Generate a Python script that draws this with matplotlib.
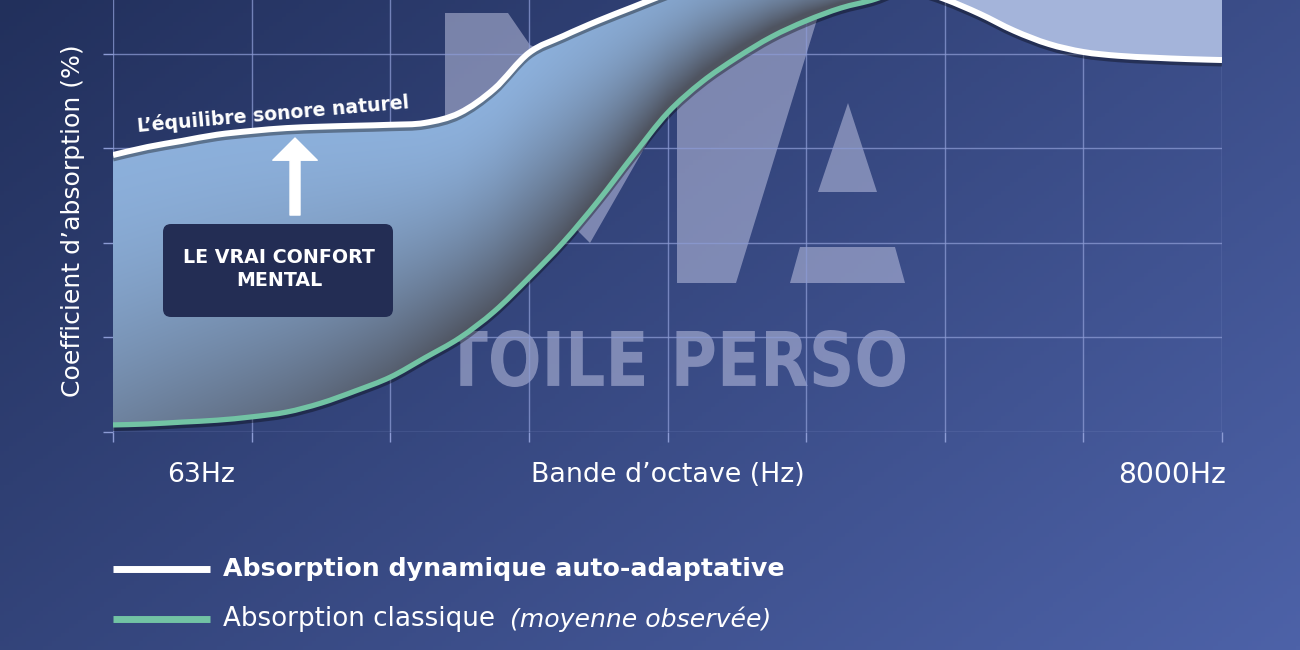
import numpy as np
import matplotlib
matplotlib.use('Agg')
import matplotlib.pyplot as plt
import matplotlib.patheffects as pe
from matplotlib.patches import Polygon, PathPatch, FancyBboxPatch
from matplotlib.lines import Line2D
from matplotlib.path import Path
from matplotlib.textpath import TextPath
from matplotlib.font_manager import FontProperties
from matplotlib.transforms import Affine2D, IdentityTransform

plt.rcParams['font.family'] = ['DejaVu Sans']

# octave bands: 0 = 63Hz ... 8 = last grid line, read every quarter of a band
band_pos = np.arange(33) * 0.25
# absorption coefficient (%)
dynamique = [58.6, 60.3, 61.6, 62.9, 63.7, 64.3, 64.6, 64.8, 65.0, 65.4, 67.5,
             72.6, 80.2, 83.8, 87.0, 89.9, 92.8, 95.5, 97.0, 98.0, 98.0, 97.0,
             95.5, 94.0, 91.6, 88.5, 84.9, 82.1, 80.4, 79.6, 79.2, 78.9, 78.7]
classique = [1.5, 1.7, 2.1, 2.5, 3.2, 4.2, 6.1, 8.7, 11.6, 15.7, 19.9,
             25.5, 32.6, 40.2, 48.9, 58.4, 67.5, 74.1, 79.2, 83.6, 87.0, 89.7,
             91.6, 94.5, 96.0, 98.0, 99.0, 100, 100, 100, 100, 100, 100]
x_labels = ['63Hz', 'Bande d’octave (Hz)', '8000Hz']
legend_labels = ['Absorption dynamique auto-adaptative', 'Absorption classique']

W, H = 1300, 650
ymax = 91.4
grid_col = '#8c9bd4'
green = '#72c3a4'
wm_col = (0.85, 0.86, 0.96)


def fpx(x, y):
    # pixel position -> figure fraction
    return x / W, 1 - y / H


def smooth(xs, ys):
    # bezier chain through the read points (catmull-rom tangents)
    p = np.column_stack([xs, ys])
    n = len(p)
    verts = [p[0]]
    for i in range(n - 1):
        p0, p1, p2, p3 = p[max(i - 1, 0)], p[i], p[i + 1], p[min(i + 2, n - 1)]
        verts += [p1 + (p2 - p0) / 6, p2 - (p3 - p1) / 6, p2]
    return np.array(verts), [Path.MOVETO] + [Path.CURVE4] * (3 * (n - 1))


fig = plt.figure(figsize=(13, 6.5), dpi=100)
renderer = fig.canvas.get_renderer()


def fit(t, px, use_height=False):
    bb = t.get_window_extent(renderer)
    t.set_fontsize(t.get_fontsize() * px / (bb.height if use_height else bb.width))
    return t


# background gradient
bg = fig.add_axes([0, 0, 1, 1], zorder=-1)
u, v = np.meshgrid(np.linspace(0, 1, 300), np.linspace(0, 1, 150))
k = (0.6 * u + 0.4 * v)[..., None]
c0 = np.array([34, 48, 92]) / 255
c1 = np.array([77, 98, 168]) / 255
bg.imshow(c0 + (c1 - c0) * k, aspect='auto', extent=[0, 1, 0, 1], origin='upper')
bg.axis('off')

ax = fig.add_axes([113 / W, 1 - 432 / H, (1222 - 113) / W, 432 / H])
ax.set_facecolor('none')
ax.set_xlim(0, 8)
ax.set_ylim(0, ymax)
for s in ax.spines.values():
    s.set_visible(False)
ax.set_xticks(range(9))
ax.set_yticks([0, 20, 40, 60, 80])
ax.tick_params(length=7, width=1, color=grid_col, labelbottom=False, labelleft=False)
ax.set_axisbelow(False)
ax.grid(color=grid_col, lw=1, alpha=0.75)

# watermark (logo + name), under the grid and the curves
shapes = [
    [(445, 13), (508, 13), (530, 45), (669, 105), (590, 243), (540, 193), (445, 193)],
    [(677, 13), (819, 13), (736, 283), (677, 283)],
    [(848, 103), (818, 192), (877, 192)],
    [(800, 247), (895, 247), (905, 283), (790, 283)],
]
for sh in shapes:
    ax.add_patch(Polygon([fpx(*p) for p in sh], closed=True, transform=fig.transFigure,
                         facecolor=wm_col, alpha=0.45, edgecolor='none', zorder=1, clip_on=False))
tp = TextPath((0, 0), 'TOILE PERSO', size=1, prop=FontProperties(family='DejaVu Sans', weight='bold'))
ext = tp.get_extents()
sx = (905 - 445) / W / ext.width
sy = (387 - 330) / H / ext.height
x0, y0 = fpx(445, 387)
tr = Affine2D().translate(-ext.x0, -ext.y0).scale(sx, sy).translate(x0, y0) + fig.transFigure
ax.add_patch(PathPatch(tp, transform=tr, facecolor=wm_col, alpha=0.45, edgecolor='none',
                       zorder=1, clip_on=False))

dyn = np.array(dynamique)
cls = np.array(classique)
dyn_v, dyn_c = smooth(band_pos, dyn)
cls_v, cls_c = smooth(band_pos, cls)

# shaded band between the two curves (until they cross above the top)
gx = np.linspace(0, 8, 900)
gy = np.linspace(0, ymax, 500)
X, Y = np.meshgrid(gx, gy)
top = np.interp(gx, band_pos, dyn)
bot = np.interp(gx, band_pos, cls)
t = np.clip((Y - bot) / np.maximum(top - bot, 1e-6), 0, 1)
sh_x = 0.5 + 0.5 * np.clip(X / 2.5, 0, 1)
wdark = np.clip((1 - t) ** 1.6 * sh_x + 0.35 * np.clip((X - 3) / 3, 0, 1), 0, 1)[..., None]
light = np.array([0.55, 0.69, 0.86])
dark = np.array([0.31, 0.33, 0.38])
im = ax.imshow(light * (1 - wdark) + dark * wdark, extent=[0, 8, 0, ymax], origin='lower',
               aspect='auto', zorder=3, interpolation='bilinear')
n_in = 3 * 23 + 1
tv, bv = dyn_v[:n_in], cls_v[:n_in][::-1]
band_path = Path(np.vstack([tv, bv, tv[:1]]),
                 [Path.MOVETO] + [Path.CURVE4] * (n_in - 1) + [Path.LINETO]
                 + [Path.CURVE4] * (n_in - 1) + [Path.CLOSEPOLY])
im.set_clip_path(band_path, ax.transData)

# light area above the white curve where the classic curve passes over it
wv = dyn_v[3 * 22:]
light_path = Path(np.vstack([wv, [[8, ymax + 10], [5.5, ymax + 10], wv[0]]]),
                  [Path.MOVETO] + [Path.CURVE4] * (len(wv) - 1)
                  + [Path.LINETO, Path.LINETO, Path.CLOSEPOLY])
ax.add_patch(PathPatch(light_path, facecolor='#a4b4da', edgecolor='none', zorder=3))

shadow = [pe.SimpleLineShadow(offset=(0, -2.5), shadow_color='black', alpha=0.35), pe.Normal()]
ax.add_patch(PathPatch(Path(cls_v, cls_c), fill=False, edgecolor=green, lw=3.8, zorder=4,
                       path_effects=shadow))
ax.add_patch(PathPatch(Path(dyn_v, dyn_c), fill=False, edgecolor='white', lw=4.3, zorder=5,
                       path_effects=shadow))

# annotations
t_eq = ax.text(1.154, 67.2, 'L’équilibre sonore naturel', ha='center', va='center',
               fontsize=12, color='white', weight='bold', zorder=6, rotation_mode='anchor')
fit(t_eq, 272)
t_eq.set_rotation(5)
ax.annotate('', xy=(1.313, 62.2), xytext=(1.313, 45.9), zorder=6,
            arrowprops=dict(arrowstyle='simple,head_length=0.8,head_width=1.6,tail_width=0.36',
                            color='white', mutation_scale=20, shrinkA=0, shrinkB=0))
fig.add_artist(FancyBboxPatch((163, H - 317), 230, 93, boxstyle='round,pad=0,rounding_size=8',
                              transform=IdentityTransform(), facecolor='#232d54',
                              edgecolor='none', zorder=7))
fit(fig.text(*fpx(279, 269), 'LE VRAI CONFORT\nMENTAL', ha='center', va='center', fontsize=12,
             color='white', weight='bold', linespacing=1.25, zorder=8), 191)

# axis texts
for lab, xp, wpx in zip(x_labels, [201, 668, 1172], [68, 274, 108]):
    fit(fig.text(*fpx(xp, 475), lab, ha='center', va='center', fontsize=17, color='white'), wpx)
fit(fig.text(*fpx(73, 221), 'Coefficient d’absorption (%)', rotation=90, ha='center',
             va='center', fontsize=17, color='white'), 353, use_height=True)

# legend
fig.add_artist(Line2D([113 / W, 210 / W], [1 - 569 / H] * 2, color='white', lw=5,
                      solid_capstyle='butt'))
fig.add_artist(Line2D([113 / W, 210 / W], [1 - 619 / H] * 2, color=green, lw=5,
                      solid_capstyle='butt'))
fit(fig.text(*fpx(223, 569), legend_labels[0], ha='left', va='center', fontsize=16,
             color='white', weight='bold'), 562)
t_cl = fit(fig.text(*fpx(223, 619), legend_labels[1], ha='left', va='center', fontsize=16,
                    color='white'), 272)
x_it = t_cl.get_window_extent(renderer).x1 + 15
fit(fig.text(x_it / W, 1 - 619 / H, '(moyenne observée)', ha='left', va='center', fontsize=16,
             color='white', style='italic'), 262)

fig.savefig('out.png', dpi=100)
